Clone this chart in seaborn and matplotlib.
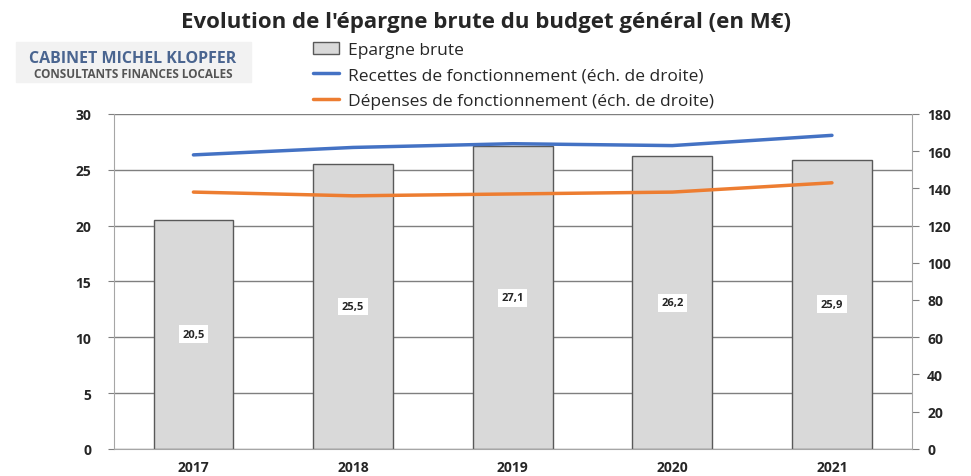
import numpy as np
import pandas as pd
import seaborn as sns
import matplotlib.pyplot as plt
from matplotlib.patches import Patch
from matplotlib.lines import Line2D

years = ["2017", "2018", "2019", "2020", "2021"]
epargne = [20.5, 25.5, 27.1, 26.2, 25.9]
recettes = [158, 162, 164, 163, 168.5]
depenses = [138, 136, 137, 138, 143]
left_ticks = [0, 5, 10, 15, 20, 25, 30]
right_ticks = [0, 20, 40, 60, 80, 100, 120, 140, 160, 180]

df = pd.DataFrame({"annee": years, "epargne": epargne,
                   "recettes": recettes, "depenses": depenses})

sns.set_style("white")
plt.rcParams["font.family"] = ["Open Sans", "DejaVu Sans"]

fig = plt.figure(figsize=(9.71, 4.77), dpi=100)
ax = fig.add_axes([0.117, 0.057, 0.822, 0.702])

ax.set_axisbelow(True)
ax.yaxis.grid(True, color="#7f7f7f", linewidth=1)
sns.barplot(data=df, x="annee", y="epargne", ax=ax, color="#d9d9d9",
            edgecolor="#595959", linewidth=1, width=0.5, saturation=1)
ax.set_ylim(0, 30)
ax.set_xlim(-0.5, len(years) - 0.5)
ax.set_yticks(left_ticks)
ax.set_xlabel("")
ax.set_ylabel("")
for s in ["top", "right"]:
    ax.spines[s].set_visible(False)
ax.spines["left"].set_color("#a6a6a6")
ax.spines["bottom"].set_color("#a6a6a6")
ax.tick_params(axis="y", length=4, color="#7f7f7f", labelsize=10, pad=12)
ax.tick_params(axis="x", length=0, labelsize=10, pad=8)
for lbl in ax.get_xticklabels() + ax.get_yticklabels():
    lbl.set_fontweight("bold")

for bar, v in zip(ax.patches, epargne):
    ax.text(bar.get_x() + bar.get_width() / 2, v / 2, f"{v:.1f}".replace(".", ","),
            ha="center", va="center", fontsize=8, fontweight="bold",
            bbox=dict(facecolor="white", edgecolor="none", pad=2.5))

ax2 = ax.twinx()
xpos = np.arange(len(years))
sns.lineplot(x=xpos, y=recettes, ax=ax2, color="#4472c4", linewidth=2.5)
sns.lineplot(x=xpos, y=depenses, ax=ax2, color="#ed7d31", linewidth=2.5)
ax2.set_ylim(0, 180)
ax2.set_yticks(right_ticks)
ax2.set_xlim(-0.5, len(years) - 0.5)
for s in ["top", "left", "bottom"]:
    ax2.spines[s].set_visible(False)
ax2.spines["right"].set_color("#a6a6a6")
ax2.tick_params(axis="y", length=5, color="#7f7f7f", labelsize=10, pad=6)
for lbl in ax2.get_yticklabels():
    lbl.set_fontweight("bold")

fig.suptitle("Evolution de l'épargne brute du budget général (en M€)",
             x=0.5, y=0.975, fontsize=16, fontweight="bold")

handles = [Patch(facecolor="#d9d9d9", edgecolor="#595959"),
           Line2D([0], [0], color="#4472c4", lw=2.5),
           Line2D([0], [0], color="#ed7d31", lw=2.5)]
labels = ["Epargne brute", "Recettes de fonctionnement (éch. de droite)",
          "Dépenses de fonctionnement (éch. de droite)"]
fig.legend(handles, labels, loc="upper left", bbox_to_anchor=(0.315, 0.925),
           frameon=False, fontsize=12.5, handlelength=1.5, labelspacing=0.55,
           borderaxespad=0, handletextpad=0.5)

fig.patches.append(plt.Rectangle((0.016, 0.825), 0.242, 0.085,
                                 transform=fig.transFigure, color="#f2f2f2"))
fig.text(0.137, 0.877, "CABINET MICHEL KLOPFER", ha="center", va="center",
         fontsize=11.5, fontweight="bold", color="#4a6590")
fig.text(0.137, 0.843, "CONSULTANTS FINANCES LOCALES", ha="center", va="center",
         fontsize=8.5, fontweight="bold", color="#555555")

fig.savefig("out.png", dpi=100)
